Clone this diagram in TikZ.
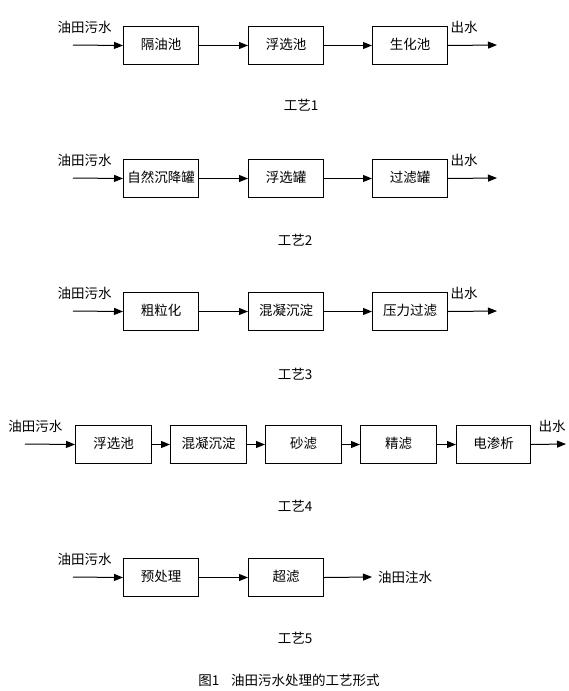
\documentclass[tikz,border=0pt]{standalone}
\usepackage{fontspec}
\setmainfont{Noto Sans CJK SC}
\usetikzlibrary{arrows.meta}
\begin{document}
\begin{tikzpicture}[x=1pt,y=-1pt,
  box/.style={draw, line width=1pt, minimum width=75pt, minimum height=38pt, inner sep=0pt, anchor=north west, font=\fontsize{13.5}{15}\selectfont},
  flow/.style={-{Triangle[length=9pt,width=7pt]}, line width=1pt},
  lbl/.style={font=\fontsize{13.5}{15}\selectfont, inner sep=0pt}]
\useasboundingbox[fill=white] (0,0) rectangle (569,691);
% Row 1
\node[box] (a1) at (123,26) {\raisebox{3pt}{隔油池}};
\node[box] (b1) at (248,26) {\raisebox{3pt}{浮选池}};
\node[box] (c1) at (372,26) {\raisebox{3pt}{生化池}};
\coordinate (i1) at (73,45);
\coordinate (o1) at (497,45);
\draw[flow] (i1) -- (a1.west);
\draw[flow] (a1.east) -- (b1.west);
\draw[flow] (b1.east) -- (c1.west);
\draw[flow] (c1.east) -- (o1);
\node[lbl] (s1) at (84.5,27) {油田污水};
\node[lbl] (e1) at (464,27) {出水};
\node[lbl] (t1) at (301,105) {工艺1};
% Row 2
\node[box] (a2) at (123,159) {\raisebox{3pt}{自然沉降罐}};
\node[box] (b2) at (248,159) {\raisebox{3pt}{浮选罐}};
\node[box] (c2) at (372,159) {\raisebox{3pt}{过滤罐}};
\coordinate (i2) at (73,178);
\coordinate (o2) at (497,178);
\draw[flow] (i2) -- (a2.west);
\draw[flow] (a2.east) -- (b2.west);
\draw[flow] (b2.east) -- (c2.west);
\draw[flow] (c2.east) -- (o2);
\node[lbl] (s2) at (84.5,160) {油田污水};
\node[lbl] (e2) at (464,160) {出水};
\node[lbl] (t2) at (295,240) {工艺2};
% Row 3
\node[box] (a3) at (123,292) {\raisebox{3pt}{粗粒化}};
\node[box] (b3) at (248,292) {\raisebox{3pt}{混凝沉淀}};
\node[box] (c3) at (372,292) {\raisebox{3pt}{压力过滤}};
\coordinate (i3) at (73,311);
\coordinate (o3) at (497,311);
\draw[flow] (i3) -- (a3.west);
\draw[flow] (a3.east) -- (b3.west);
\draw[flow] (b3.east) -- (c3.west);
\draw[flow] (c3.east) -- (o3);
\node[lbl] (s3) at (84.5,293) {油田污水};
\node[lbl] (e3) at (464,293) {出水};
\node[lbl] (t3) at (295,374) {工艺3};
% Row 4
\node[box, minimum width=76pt] (a4) at (75,425) {\raisebox{3pt}{浮选池}};
\node[box, minimum width=76pt] (b4) at (170,425) {\raisebox{3pt}{混凝沉淀}};
\node[box, minimum width=76pt] (c4) at (265,425) {\raisebox{3pt}{砂滤}};
\node[box, minimum width=76pt] (d4) at (360,425) {\raisebox{3pt}{精滤}};
\node[box, minimum width=74pt] (f4) at (456,425) {\raisebox{3pt}{电渗析}};
\coordinate (i4) at (25,444);
\coordinate (o4) at (566,444);
\draw[flow] (i4) -- (a4.west);
\draw[flow] (a4.east) -- (b4.west);
\draw[flow] (b4.east) -- (c4.west);
\draw[flow] (c4.east) -- (d4.west);
\draw[flow] (d4.east) -- (f4.west);
\draw[flow] (f4.east) -- (o4);
\node[lbl] (s4) at (35.5,426) {油田污水};
\node[lbl] (e4) at (552,426) {出水};
\node[lbl] (t4) at (295,506) {工艺4};
% Row 5
\node[box] (a5) at (123,558) {\raisebox{3pt}{预处理}};
\node[box] (b5) at (248,558) {\raisebox{3pt}{超滤}};
\coordinate (i5) at (73,577);
\draw[flow] (i5) -- (a5.west);
\draw[flow] (a5.east) -- (b5.west);
\node[lbl, anchor=west, inner xsep=6pt] (w5) at (372,577) {油田注水};
\draw[flow] (b5.east) -- (w5.west);
\node[lbl] (s5) at (84.5,559) {油田污水};
\node[lbl] (t5) at (295,638) {工艺5};
% Caption
\node[lbl] (cap) at (289,680) {图1\hspace{12pt}油田污水处理的工艺形式};
\end{tikzpicture}
\end{document}
